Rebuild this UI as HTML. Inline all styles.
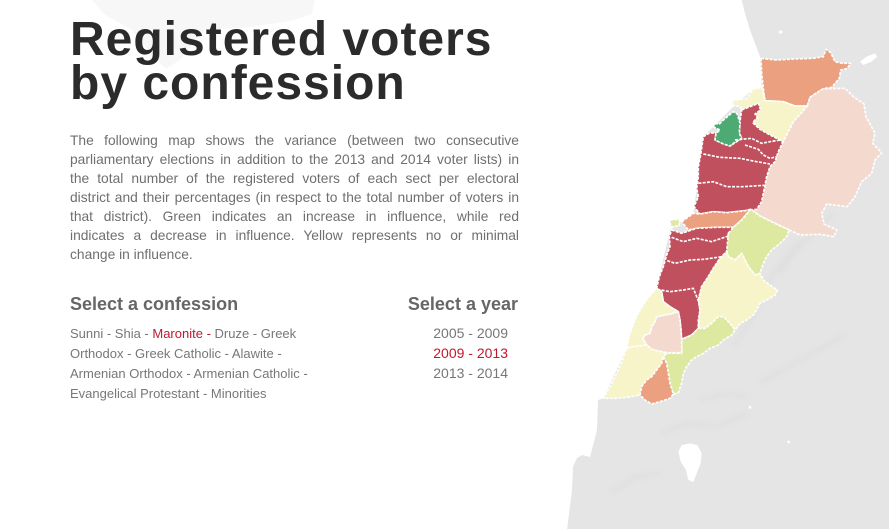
<!DOCTYPE html>
<html>
<head>
<meta charset="utf-8">
<style>
  html, body { margin:0; padding:0; }
  body { width:889px; height:529px; overflow:hidden; background:#fff; position:relative; font-family:"Liberation Sans", Arial, sans-serif; }
  #map { position:absolute; left:0; top:0; width:889px; height:529px; }
  .title { position:absolute; left:70px; top:18px; font-weight:bold; font-size:48px; line-height:44px; letter-spacing:1px; color:#2b2b2b; white-space:nowrap; }
  .para { position:absolute; left:70px; top:131px; width:449px; font-size:13.8px; line-height:19px; color:#6f6f6f; }
  .para div { text-align:justify; text-align-last:justify; }
  .para div.last { text-align:left; text-align-last:left; }
  .h { position:absolute; top:293px; font-weight:bold; font-size:18px; line-height:22px; color:#666; white-space:nowrap; }
  .list { position:absolute; left:70px; top:324px; font-size:13px; line-height:20px; color:#777; white-space:nowrap; }
  .years { position:absolute; right:381px; top:323px; font-size:14px; line-height:20px; color:#777; text-align:right; white-space:nowrap; }
  .red { color:#c0182f; }
</style>
</head>
<body>
<svg id="map" width="889" height="529" viewBox="0 0 889 529" xmlns="http://www.w3.org/2000/svg">
  <defs>
    <filter id="bl" x="-20%" y="-20%" width="140%" height="140%"><feGaussianBlur stdDeviation="8"/></filter>
  </defs>
  <!-- faint blob behind title -->
  <path d="M92,0 L315,0 L312,14 L290,21 L250,27 L205,30 L192,44 L180,60 L166,69 L152,55 L132,30 L104,14 Z" fill="#f7f7f7"/>
  <g transform="translate(560,0) scale(0.333333)">
    <!-- land -->
    <path d="M545,0 L987,0 L987,1587 L21,1590 L36,1470 L39,1400 L51,1374 L66,1365 L90,1371 L111,1290 L114,1200 L130,1195 L200,1045 L260,900 L290,865 L330,690 L400,640 L410,565 L430,410 L470,370 L520,320 L580,268 L605,262 L600,170 L585,130 L570,90 L555,40 Z" fill="#e5e5e6"/>
    <!-- terrain shading -->
    <g filter="url(#bl)" stroke="#d4d4d5" stroke-width="12" fill="none" opacity="0.35">
      <path d="M720,720 L640,820 L600,900 L560,980 L520,1040"/>
      <path d="M820,640 L760,700 L700,760 L660,820"/>
      <path d="M300,1300 L380,1270 L470,1280 L560,1240"/>
      <path d="M150,1480 L230,1430 L300,1420"/>
      <path d="M600,1150 L680,1100 L760,1060 L860,1000"/>
      <path d="M420,1200 L500,1180 L560,1190"/>
    </g>
    <!-- lakes -->
    <path d="M390,1330 L412,1335 L425,1360 L422,1390 L410,1420 L400,1446 L385,1440 L378,1410 L362,1385 L355,1355 L365,1335 Z" fill="#fff"/>
    <path d="M900,185 L920,170 L945,160 L952,170 L935,185 L910,195 Z" fill="#fff"/>
    <circle cx="662" cy="96" r="5" fill="#fff"/>
    <circle cx="570" cy="1222" r="4" fill="#fff"/>
    <circle cx="686" cy="1326" r="4" fill="#fff"/>

    <g stroke="#fff" stroke-width="5" stroke-dasharray="9 4" stroke-linejoin="round">
      <!-- Akkar -->
      <path fill="#eba07f" d="M603,175 L650,180 700,177 760,175 790,170 798,148 812,158 825,185 848,190 872,190 862,205 842,210 838,235 815,262 790,266 765,282 750,292 742,318 705,318 670,305 615,302 610,265 605,220 Z"/>
      <!-- Hermel-Baalbek -->
      <path fill="#f4d9cf" d="M742,318 L750,292 765,282 790,266 855,265 880,290 912,312 918,350 945,400 938,430 965,458 945,480 935,520 905,545 885,590 862,620 800,612 785,640 792,672 830,690 822,710 780,703 720,705 688,690 640,668 600,648 572,628 585,605 600,560 612,505 622,485 652,452 668,428 700,365 Z"/>
      <!-- Minieh-Dennieh -->
      <path fill="#f6f4c8" d="M515,302 L560,295 580,268 605,262 615,302 670,305 705,318 742,318 700,365 668,428 660,420 630,405 600,388 578,368 592,352 585,342 602,330 595,310 545,330 540,318 520,318 Z"/>
      <!-- Red north -->
      <path fill="#c0505e" d="M545,330 L595,310 602,330 585,342 592,352 578,368 600,388 630,405 660,420 668,428 655,455 645,485 630,500 620,530 612,570 605,605 590,628 555,632 500,638 460,635 420,642 402,620 415,590 410,565 415,530 415,500 422,465 430,410 450,398 468,400 465,420 490,430 510,438 545,415 538,400 540,365 Z"/>
      <!-- Tripoli -->
      <path fill="#4caa72" d="M465,370 L478,372 490,360 520,335 532,342 540,370 538,400 545,415 520,430 510,438 490,432 465,420 468,400 480,390 462,382 Z"/>
      <!-- Baabda -->
      <path fill="#eba07f" d="M365,665 L400,640 420,642 460,635 500,638 555,632 572,628 545,660 520,682 470,682 410,685 385,690 Z"/>
      <!-- Beirut -->
      <path fill="#dde8a0" d="M330,660 L358,658 358,678 332,680 Z"/>
      <!-- Red south -->
      <path fill="#c0505e" d="M335,690 L365,700 410,685 470,682 520,682 505,730 500,755 480,775 460,805 445,830 425,860 415,900 420,930 415,960 415,985 395,1005 365,1018 363,990 360,960 355,935 330,920 310,905 305,875 290,865 298,830 310,800 320,765 330,740 328,710 Z"/>
      <!-- Zahle -->
      <path fill="#dde8a0" d="M505,700 L520,682 545,660 572,628 600,648 640,668 688,690 680,710 660,730 635,750 620,770 610,790 600,820 585,825 565,800 555,780 545,760 525,780 505,770 500,755 Z"/>
      <!-- West Bekaa -->
      <path fill="#f6f4c8" d="M415,900 L425,860 445,830 460,805 480,775 500,755 505,770 525,780 545,760 555,780 565,800 585,825 600,820 610,840 630,855 652,870 645,885 620,900 600,910 590,930 580,945 560,960 540,970 525,990 510,970 490,950 475,950 455,970 435,985 415,985 420,930 Z"/>
      <!-- Nabatieh -->
      <path fill="#dde8a0" d="M415,985 L435,985 455,970 475,950 490,950 510,970 525,990 515,1005 490,1020 475,1035 450,1045 430,1060 410,1070 395,1080 380,1100 370,1120 365,1150 355,1178 340,1182 330,1150 325,1120 320,1090 310,1070 320,1060 365,1060 365,1018 395,1005 Z"/>
      <!-- Sidon -->
      <path fill="#f4d9cf" d="M290,950 L330,942 355,935 360,960 363,990 365,1018 365,1058 320,1058 290,1052 275,1048 260,1035 248,1015 255,1005 270,1000 275,980 285,965 Z"/>
      <!-- Zahrani -->
      <path fill="#f6f4c8" d="M280,875 L290,865 305,875 310,905 330,920 355,935 330,942 290,950 285,965 275,980 270,1000 255,1005 248,1015 260,1035 220,1040 200,1045 210,1000 225,960 240,930 260,900 Z"/>
      <!-- Tyre -->
      <path fill="#f6f4c8" d="M200,1045 L220,1040 260,1035 275,1048 290,1052 320,1058 310,1070 305,1090 290,1110 275,1130 260,1140 245,1160 240,1185 200,1192 160,1195 130,1195 150,1160 170,1120 185,1085 Z"/>
      <!-- Bint Jbeil -->
      <path fill="#eba07f" d="M310,1070 L320,1090 325,1120 330,1150 340,1182 330,1195 300,1205 275,1212 255,1200 240,1185 245,1160 260,1140 275,1130 290,1110 305,1090 Z"/>
      <!-- internal red borders -->
      <g fill="none">
        <path d="M525,420 L575,415 605,430 630,425 660,420"/>
        <path d="M555,435 L595,448 610,465 630,475 650,470"/>
        <path d="M430,462 L480,472 540,475 590,485 630,492"/>
        <path d="M415,550 L460,545 500,560 550,560 612,556"/>
        <path d="M335,712 L370,725 410,715 455,725 505,708"/>
        <path d="M322,782 L345,790 390,780 430,778 488,770"/>
        <path d="M292,868 L330,875 370,870 400,865 410,890 418,910"/>
      </g>
    </g>
  </g>
</svg>

<div class="title">Registered voters<br>by confession</div>

<div class="para">
  <div>The following map shows the variance (between two consecutive</div>
  <div>parliamentary elections in addition to the 2013 and 2014 voter lists) in</div>
  <div>the total number of the registered voters of each sect per electoral</div>
  <div>district and their percentages (in respect to the total number of voters in</div>
  <div>that district). Green indicates an increase in influence, while red</div>
  <div>indicates a decrease in influence. Yellow represents no or minimal</div>
  <div class="last">change in influence.</div>
</div>

<div class="h" style="left:70px;">Select a confession</div>
<div class="h" style="right:371px;">Select a year</div>

<div class="list">
  Sunni - Shia - <span class="red">Maronite -</span> Druze - Greek<br>
  Orthodox - Greek Catholic - Alawite -<br>
  Armenian Orthodox - Armenian Catholic -<br>
  Evangelical Protestant - Minorities
</div>

<div class="years">
  2005 - 2009<br>
  <span class="red">2009 - 2013</span><br>
  2013 - 2014
</div>
</body>
</html>
